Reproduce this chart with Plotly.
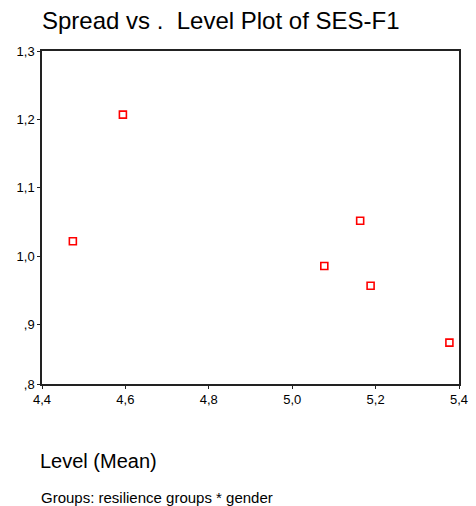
import plotly.graph_objects as go

level_mean = [4.474, 4.594, 5.077, 5.163, 5.188, 5.377]
spread = [1.022, 1.207, 0.986, 1.052, 0.957, 0.874]

x_tickvals = [4.4, 4.6, 4.8, 5.0, 5.2, 5.4]
x_ticktext = ["4,4", "4,6", "4,8", "5,0", "5,2", "5,4"]
y_tickvals = [0.8135, 0.9, 1.0, 1.1, 1.2, 1.3]
y_ticktext = [",8", ",9", "1,0", "1,1", "1,2", "1,3"]

font = "Liberation Sans, Arial, sans-serif"

fig = go.Figure()
fig.add_trace(go.Scatter(
    x=level_mean, y=spread, mode="markers",
    marker=dict(symbol="square-open", size=7, color="#ff0000", line=dict(width=1.6, color="#ff0000")),
    showlegend=False, hoverinfo="x+y"))

fig.update_layout(
    width=476, height=506,
    margin=dict(l=42, r=8, t=51, b=122),
    paper_bgcolor="white", plot_bgcolor="white",
    font=dict(family=font, color="black"),
    xaxis=dict(range=[4.4, 5.4], tickvals=x_tickvals, ticktext=x_ticktext,
               showgrid=False, zeroline=False, showline=True, mirror=True,
               linecolor="#222", linewidth=1.5, ticks="outside", ticklen=3,
               tickcolor="#222", tickfont=dict(size=13, family=font)),
    yaxis=dict(range=[0.8135, 1.3], tickvals=y_tickvals, ticktext=y_ticktext,
               showgrid=False, zeroline=False, showline=True, mirror=True,
               linecolor="#222", linewidth=1.5, ticks="outside", ticklen=3,
               tickcolor="#222", tickfont=dict(size=13, family=font)),
    annotations=[
        dict(text="Spread vs&nbsp;.&nbsp;&nbsp;Level Plot of SES-F1", xref="paper", yref="paper",
             x=0, y=1, xanchor="left", yanchor="middle", xshift=-2, yshift=31,
             showarrow=False, font=dict(size=24, family=font)),
        dict(text="Level (Mean)", xref="paper", yref="paper",
             x=0, y=0, xanchor="left", yanchor="middle", xshift=-4, yshift=-77,
             showarrow=False, font=dict(size=20, family=font)),
        dict(text="Groups: resilience groups * gender", xref="paper", yref="paper",
             x=0, y=0, xanchor="left", yanchor="middle", xshift=-3, yshift=-113,
             showarrow=False, font=dict(size=15, family=font)),
    ],
)

fig.write_html("out.html", config={"displayModeBar": False},
               post_script="document.body.style.margin='0';")
